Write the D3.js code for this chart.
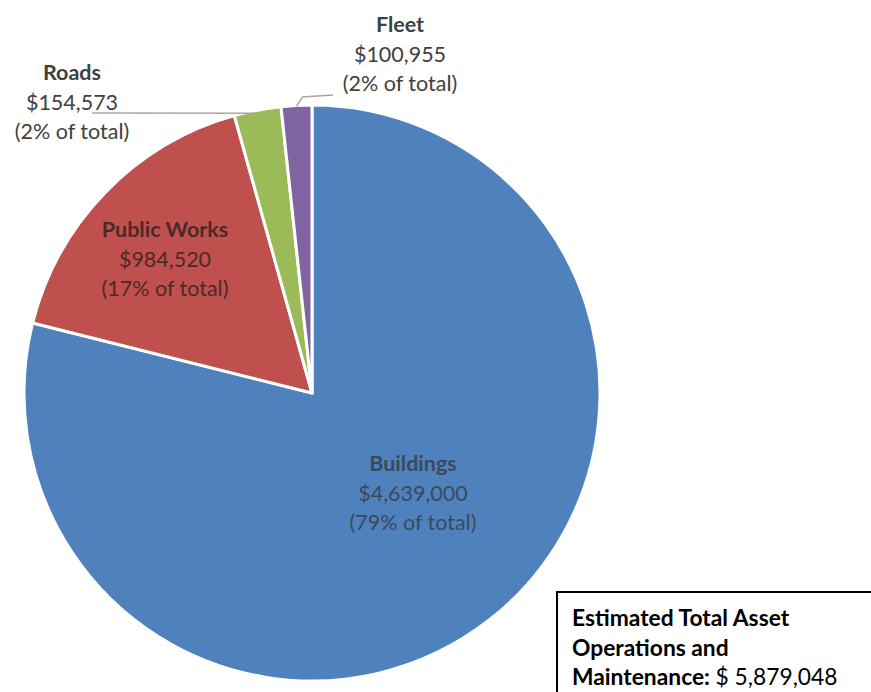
<!DOCTYPE html>
<html>
<head>
<meta charset="utf-8">
<script src="https://cdn.jsdelivr.net/npm/d3@7/dist/d3.min.js"></script>
<style>
  html, body { margin: 0; padding: 0; background: #fff; }
  svg { display: block; font-family: "Lato", "Open Sans", sans-serif; }
</style>
</head>
<body>
<svg id="chart" width="871" height="692"></svg>
<script>
// Asset operations & maintenance cost by category
const categories = ["Buildings", "Public Works", "Roads", "Fleet"];
const costs = [4639000, 984520, 154573, 100955];
const shares = ["79%", "17%", "2%", "2%"];
const colors = ["#4F81BD", "#C0504D", "#9BBB59", "#8064A2"];
const totalLabel = "$ 5,879,048";

const svg = d3.select("#chart");
const cx = 312, cy = 393, radius = 288;

const pie = d3.pie().sort(null).value(d => d.cost);
const data = categories.map((c, i) => ({ name: c, cost: costs[i], share: shares[i], color: colors[i] }));
const arcs = pie(data);
const arc = d3.arc().innerRadius(0).outerRadius(radius);

const g = svg.append("g").attr("transform", `translate(${cx},${cy})`);
g.selectAll("path.slice")
  .data(arcs)
  .join("path")
  .attr("class", "slice")
  .attr("d", arc)
  .attr("fill", d => d.data.color)
  .attr("stroke", "#fff")
  .attr("stroke-width", 3)
  .attr("stroke-linejoin", "round");

const fmt = d3.format("$,");

// Label positions: inside for large slices, outside with leader lines for small ones
const labelPos = {
  "Buildings":    { x: 413, y: 471, color: "#3a4a5e" },
  "Public Works": { x: 165, y: 237, color: "#4a2a28" },
  "Roads":        { x: 72,  y: 80,  color: "#404040" },
  "Fleet":        { x: 400, y: 32,  color: "#404040" }
};

const labels = svg.append("g");
data.forEach(d => {
  const p = labelPos[d.name];
  const t = labels.append("text")
    .attr("text-anchor", "middle")
    .attr("fill", p.color)
    .style("font-size", "21.5px");
  t.append("tspan").attr("x", p.x).attr("y", p.y).attr("font-weight", "bold").text(d.name);
  t.append("tspan").attr("x", p.x).attr("y", p.y + 30).text(fmt(d.cost));
  t.append("tspan").attr("x", p.x).attr("y", p.y + 59).text(`(${d.share} of total)`);
});

// Leader lines for the small outside labels
const outer = d3.arc().innerRadius(radius).outerRadius(radius);
const roadsPt = outer.centroid(arcs[2]);
const fleetPt = outer.centroid(arcs[3]);
const leader = svg.append("g").attr("fill", "none").attr("stroke", "#a6a6a6").attr("stroke-width", 1.5);
leader.append("polyline")
  .attr("points", `92,113 ${cx + roadsPt[0] - 2},${cy + roadsPt[1] + 3}`);
leader.append("polyline")
  .attr("points", `${cx + fleetPt[0]},${cy + fleetPt[1] + 1} ${cx + fleetPt[0] + 6},97 333,95`);

// Total box
const box = svg.append("g");
box.append("rect")
  .attr("x", 557).attr("y", 592)
  .attr("width", 330).attr("height", 120)
  .attr("fill", "#fff")
  .attr("stroke", "#000")
  .attr("stroke-width", 2);
const bt = box.append("text").attr("fill", "#000").style("font-size", "22.8px");
bt.append("tspan").attr("x", 572).attr("y", 626).attr("font-weight", "bold").text("Estimated Total Asset");
bt.append("tspan").attr("x", 572).attr("y", 656).attr("font-weight", "bold").text("Operations and");
const last = bt.append("tspan").attr("x", 572).attr("y", 685);
last.append("tspan").attr("font-weight", "bold").text("Maintenance: ");
last.append("tspan").text(totalLabel);
</script>
</body>
</html>
